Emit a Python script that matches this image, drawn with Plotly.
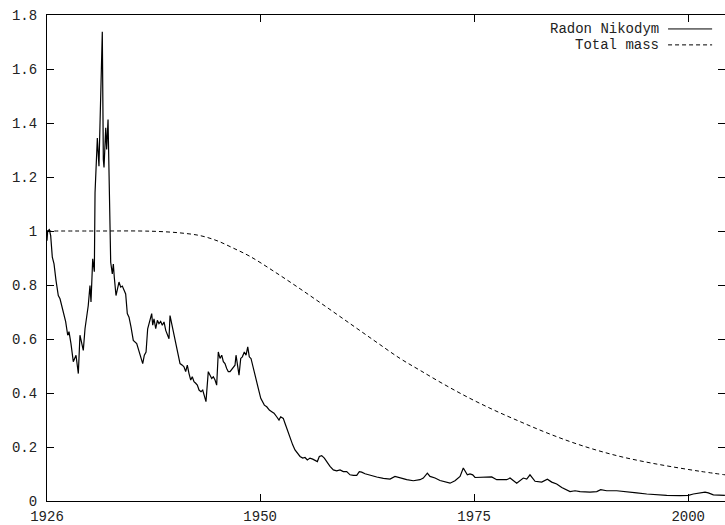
import plotly.graph_objects as go

# Radon-Nikodym derivative (monthly-ish samples, decimal years)
rn_year = [
    1925.10, 1925.18, 1925.37, 1925.53, 1925.72, 1925.92, 1926.15, 1926.42, 1926.62, 1926.82,
    1927.09, 1927.28, 1927.52, 1927.67, 1927.90, 1928.17, 1928.49, 1928.76, 1928.95, 1929.15,
    1929.34, 1929.54, 1929.92, 1930.12, 1930.24, 1930.44, 1930.63, 1930.71, 1930.98, 1931.17,
    1931.35, 1931.56, 1931.68, 1931.76, 1931.96, 1932.07, 1932.23, 1932.38, 1932.54, 1932.73,
    1932.85, 1932.96, 1933.16, 1933.51, 1933.71, 1933.90, 1934.10, 1934.29, 1934.48, 1934.68,
    1934.91, 1935.18, 1935.58, 1935.85, 1936.08, 1936.28, 1936.47, 1936.67, 1936.86, 1937.05,
    1937.33, 1937.45, 1937.60, 1937.80, 1937.99, 1938.18, 1938.38, 1938.57, 1938.77, 1938.97,
    1939.15, 1939.35, 1939.47, 1939.67, 1939.85, 1940.05, 1940.25, 1940.44, 1940.64, 1940.91,
    1941.10, 1941.30, 1941.49, 1941.69, 1941.89, 1942.07, 1942.27, 1942.47, 1942.66, 1942.86,
    1943.09, 1943.29, 1943.48, 1943.64, 1943.67, 1943.94, 1944.14, 1944.34, 1944.53, 1944.73,
    1944.92, 1945.11, 1945.31, 1945.51, 1945.70, 1945.89, 1946.09, 1946.28, 1946.48, 1946.86,
    1947.06, 1947.18, 1947.38, 1947.53, 1947.73, 1947.92, 1948.15, 1948.35, 1948.55, 1948.73,
    1948.93, 1949.13, 1949.32, 1949.52, 1949.67, 1949.78, 1950.07, 1950.25, 1950.49, 1950.77,
    1951.07, 1951.35, 1951.62, 1951.93, 1952.20, 1952.40, 1952.70, 1952.90, 1953.17, 1953.49,
    1953.80, 1954.07, 1954.39, 1954.66, 1954.97, 1955.24, 1955.51, 1955.82, 1956.14, 1956.41,
    1956.68, 1956.91, 1957.19, 1957.50, 1957.78, 1958.16, 1958.55, 1958.94, 1959.33, 1959.71,
    1960.11, 1960.50, 1960.88, 1961.28, 1961.58, 1961.86, 1962.25, 1962.83, 1963.62, 1964.39,
    1965.17, 1965.75, 1966.34, 1967.12, 1967.89, 1968.67, 1969.06, 1969.53, 1969.84, 1970.43,
    1971.01, 1971.59, 1972.18, 1972.76, 1973.35, 1973.73, 1973.93, 1974.20, 1974.51, 1974.83,
    1975.10, 1976.07, 1977.05, 1977.63, 1978.80, 1979.19, 1979.39, 1979.97, 1980.74, 1981.14,
    1981.52, 1982.11, 1982.89, 1983.55, 1984.06, 1984.64, 1985.23, 1985.81, 1986.20, 1986.78,
    1987.37, 1988.53, 1989.32, 1989.78, 1990.48, 1991.65, 1992.82, 1993.99, 1995.16, 1996.32,
    1997.49, 1999.05, 2000.02, 2000.60, 2001.38, 2001.97, 2002.35, 2002.94, 2004.29,
]
rn_value = [
    0.964, 1.000, 1.005, 0.983, 0.903, 0.878, 0.817, 0.761, 0.749, 0.724,
    0.694, 0.664, 0.614, 0.627, 0.583, 0.516, 0.540, 0.472, 0.614, 0.577,
    0.558, 0.638, 0.724, 0.798, 0.737, 0.897, 0.849, 1.142, 1.344, 1.240,
    1.450, 1.738, 1.265, 1.235, 1.382, 1.302, 1.413, 1.118, 0.884, 0.841,
    0.878, 0.829, 0.761, 0.811, 0.792, 0.796, 0.779, 0.767, 0.694, 0.681,
    0.645, 0.595, 0.583, 0.552, 0.528, 0.509, 0.540, 0.552, 0.638, 0.663,
    0.694, 0.651, 0.675, 0.638, 0.669, 0.657, 0.665, 0.651, 0.663, 0.632,
    0.620, 0.601, 0.687, 0.657, 0.620, 0.601, 0.571, 0.540, 0.509, 0.503,
    0.497, 0.479, 0.503, 0.472, 0.448, 0.460, 0.442, 0.436, 0.429, 0.411,
    0.405, 0.411, 0.392, 0.380, 0.368, 0.479, 0.466, 0.454, 0.460, 0.448,
    0.429, 0.552, 0.528, 0.540, 0.516, 0.509, 0.491, 0.479, 0.479, 0.497,
    0.503, 0.540, 0.503, 0.466, 0.528, 0.534, 0.552, 0.540, 0.571, 0.534,
    0.528, 0.503, 0.479, 0.460, 0.442, 0.417, 0.380, 0.368, 0.355, 0.349,
    0.337, 0.331, 0.325, 0.312, 0.300, 0.312, 0.306, 0.288, 0.263, 0.232,
    0.208, 0.189, 0.177, 0.165, 0.159, 0.161, 0.152, 0.159, 0.155, 0.150,
    0.146, 0.165, 0.168, 0.159, 0.146, 0.128, 0.115, 0.112, 0.115, 0.109,
    0.109, 0.097, 0.095, 0.095, 0.109, 0.107, 0.101, 0.095, 0.089, 0.084,
    0.081, 0.091, 0.085, 0.079, 0.075, 0.079, 0.085, 0.103, 0.091, 0.085,
    0.076, 0.070, 0.066, 0.075, 0.091, 0.122, 0.109, 0.097, 0.100, 0.097,
    0.087, 0.089, 0.089, 0.079, 0.079, 0.085, 0.080, 0.066, 0.085, 0.081,
    0.097, 0.073, 0.070, 0.081, 0.070, 0.063, 0.050, 0.042, 0.035, 0.038,
    0.035, 0.033, 0.035, 0.042, 0.038, 0.038, 0.033, 0.030, 0.026, 0.023,
    0.021, 0.020, 0.021, 0.026, 0.030, 0.033, 0.030, 0.023, 0.021,
]

# Total mass of the measure
tm_year = [
    1925.10, 1931.29, 1935.96, 1938.30, 1940.64, 1942.97, 1944.96, 1946.83, 1948.81, 1951.73,
    1954.66, 1957.58, 1960.50, 1963.42, 1966.34, 1968.67, 1971.59, 1974.51, 1977.43, 1980.36,
    1983.28, 1986.20, 1989.12, 1992.04, 1994.96, 1997.88, 2001.38, 2004.30,
]
tm_value = [
    1.000, 1.000, 1.000, 0.998, 0.993, 0.983, 0.964, 0.937, 0.906, 0.848,
    0.786, 0.722, 0.657, 0.592, 0.528, 0.484, 0.430, 0.380, 0.335, 0.294,
    0.255, 0.220, 0.190, 0.165, 0.145, 0.128, 0.110, 0.097,
]

x_tick_pos = [1925.1, 1950, 1975, 2000]
x_tick_text = ["1926", "1950", "1975", "2000"]
legend_names = ["Radon Nikodym", "Total mass"]

FONT = "Liberation Mono, Courier New, monospace"
TEXT_COLOR = "#222"
DASH = "4px,3px"

fig = go.Figure()
fig.add_trace(go.Scatter(x=rn_year, y=rn_value, mode="lines",
                         line=dict(color="black", width=1.2), name=legend_names[0]))
fig.add_trace(go.Scatter(x=tm_year, y=tm_value, mode="lines", line_shape="spline",
                         line=dict(color="black", width=1, dash=DASH),
                         name=legend_names[1]))
# carrier for the right-hand tick marks (no data drawn)
fig.add_trace(go.Scatter(x=[None], y=[None], yaxis="y2", showlegend=False,
                         hoverinfo="skip"))

tick_style = dict(ticks="inside", ticklen=7, tickcolor="black", tickwidth=1,
                  tickfont=dict(family=FONT, size=14, color=TEXT_COLOR))

fig.update_layout(
    xaxis=dict(range=[1925.1, 2004.3], tickvals=x_tick_pos, ticktext=x_tick_text,
               showgrid=False, zeroline=False, showline=True, linecolor="black",
               linewidth=1, mirror="ticks", ticklabelstandoff=2, **tick_style),
    yaxis=dict(range=[0, 1.8], dtick=0.2, tick0=0, showgrid=False, zeroline=False,
               showline=True, linecolor="black", linewidth=1, mirror=False,
               ticklabelstandoff=6, **tick_style),
    yaxis2=dict(range=[0, 1.8], dtick=0.2, tick0=0, overlaying="y", side="right",
                showgrid=False, zeroline=False, showline=False,
                showticklabels=False, ticks="inside", ticklen=7,
                tickcolor="black", tickwidth=1),
)

# key in the upper-right corner: label text followed by a line sample
for i, (name, dash) in enumerate(zip(legend_names, ["solid", DASH])):
    y = 0.9713 - i * 0.0328
    fig.add_annotation(x=0.904, y=y, xref="paper", yref="paper", text=name,
                       showarrow=False, xanchor="right", yanchor="middle",
                       borderpad=0,
                       font=dict(family=FONT, size=14, color=TEXT_COLOR))
    fig.add_shape(type="line", xref="paper", yref="paper", x0=0.916, x1=0.981,
                  y0=y, y1=y, line=dict(color="black", width=1, dash=dash))

fig.update_layout(width=725, height=525, showlegend=False,
                  plot_bgcolor="white", paper_bgcolor="white",
                  margin=dict(l=47, r=0, t=15, b=22))

fig.write_html("out.html")
